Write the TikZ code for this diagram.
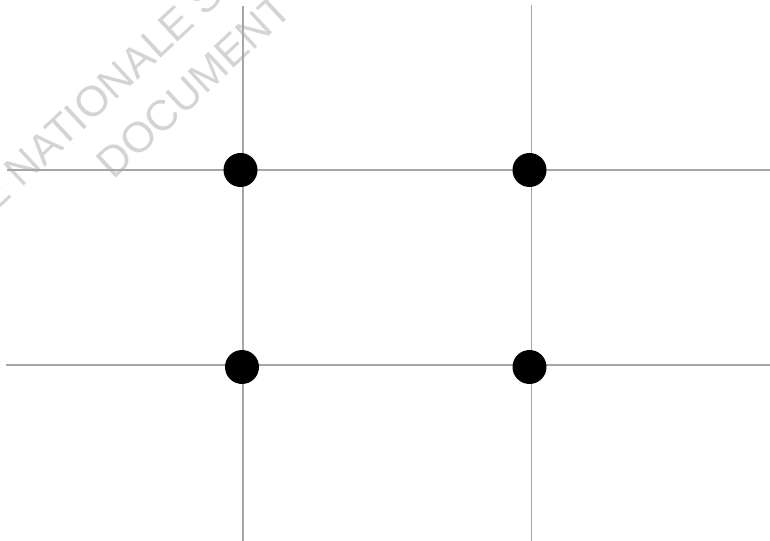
\documentclass[tikz,border=0pt]{standalone}
\usepackage{fontspec}
\newfontfamily\wmfont{Liberation Sans}
\usetikzlibrary{positioning}

\begin{document}
\begin{tikzpicture}[x=0.75pt,y=-0.75pt,
    gridline/.style={draw=black!35, line width=1.4pt},
    bigdot/.style={circle, fill=black, inner sep=0pt, minimum size=25.5pt},
    wmark/.style={text=black!17, font=\wmfont\fontsize{32}{38}\selectfont, rotate=43, inner sep=0pt}
]
\useasboundingbox (0,0) rectangle (770,541);
\clip (0,0) rectangle (770,541);
% watermark
\node[wmark] (wm1) at (99,96) {E NATIONALE S};
\node[wmark] (wm2) at (194,86) {DOCUMENT};
% ends of the grid lines
\coordinate (v1n) at (243,6);   \coordinate (v1s) at (243,541);
\coordinate (v2n) at (531.5,5); \coordinate (v2s) at (531.5,541);
\coordinate (h1w) at (7,170);   \coordinate (h1e) at (770,170);
\coordinate (h2w) at (6,365);   \coordinate (h2e) at (770,365);
\draw[gridline] (v1n) -- (v1s);
\draw[gridline] (v2n) -- (v2s);
\draw[gridline] (h1w) -- (h1e);
\draw[gridline] (h2w) -- (h2e);
% the four points
\node[bigdot] (tl) at (240.5,170) {};
\node[bigdot] (tr) at (529.5,170) {};
\node[bigdot] (bl) at (242,367) {};
\node[bigdot] (br) at (529.5,367) {};
\end{tikzpicture}
\end{document}
